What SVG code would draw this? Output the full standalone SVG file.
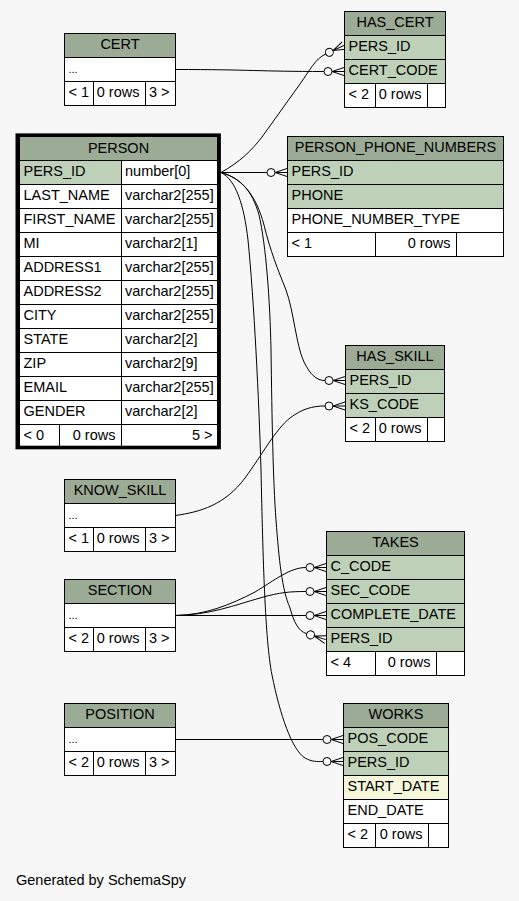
<svg xmlns="http://www.w3.org/2000/svg" width="519" height="901" viewBox="0 0 519 901">
<style>
.t{font-family:"Liberation Sans",Arial,Helvetica,sans-serif;font-size:14.5px;fill:#000}
.s{font-family:"Liberation Sans",Arial,sans-serif;font-size:11px;fill:#000}
.m{text-anchor:middle}
.e{text-anchor:end}
.h{fill:#9bab96;stroke:#000;stroke-width:1}
.k{fill:#bed1b8;stroke:#000;stroke-width:1}
.w{fill:#fff;stroke:#000;stroke-width:1}
.i{fill:#f4f7da;stroke:#000;stroke-width:1}
.c{fill:none;stroke:#000;stroke-width:1}
</style>
<defs>
<marker id="crow" markerUnits="userSpaceOnUse" orient="auto" refX="0" refY="0" markerWidth="20" markerHeight="10" overflow="visible">
<circle cx="4" cy="0" r="4" fill="none" stroke="#000" stroke-width="1"/>
<path d="M8,0 L20,-4 M8,0 L20,0 M8,0 L20,4" fill="none" stroke="#000" stroke-width="1"/>
</marker>
</defs>
<rect x="0" y="0" width="519" height="901" fill="#f7f7f7"/>

<g id="connectors">
<path class="c" marker-end="url(#crow)" d="M175.5,69.5 C250,69.5 260,71.5 324,71.5"/>
<path class="c" marker-end="url(#crow)" d="M221,172.5 C240,162 252,150 262,137 L300,84 C310,70 315,59 325.7,54"/>
<path class="c" marker-end="url(#crow)" d="M221,172.5 L267,172.5"/>
<path class="c" marker-end="url(#crow)" d="M221,172.5 C242,178 256,195 264,225 C270,250 278,270 286,290 C294,312 296,345 304,362 C310,374 316,380.5 325,380.5"/>
<path class="c" marker-end="url(#crow)" d="M175.5,515.5 C200,512 225,505 245,478 C262,455 275,430 290,418 C302,409 312,406 325,406"/>
<path class="c" marker-end="url(#crow)" d="M175.5,615.5 C205,615 230,605 255,592 C275,580 290,567.5 306,567.5"/>
<path class="c" marker-end="url(#crow)" d="M175.5,615.5 C210,615 235,605 260,598 C280,592 292,591.5 306,591.5"/>
<path class="c" marker-end="url(#crow)" d="M175.5,615.5 L306,615.5"/>
<path class="c" marker-end="url(#crow)" d="M221,172.5 C240,178 252,190 259,215 C266,245 270,300 271,350 C272,420 273,480 276,520 C279,560 282,590 290,608 C294,622 298,631 306.7,633.7"/>
<path class="c" marker-end="url(#crow)" d="M221,172.5 C236,180 244,205 248,240 C254,300 259,400 261,470 C263,560 265,640 272,675 C280,715 292,750 305,758 C312,762 317,761.5 323,761.5"/>
<path class="c" marker-end="url(#crow)" d="M175.5,739.5 L323,739.5"/>
</g>

<g id="CERT">
<rect class="h" x="64.5" y="33.5" width="111" height="24"/>
<text class="t m" x="120" y="49">CERT</text>
<rect class="w" x="64.5" y="57.5" width="111" height="24"/>
<text class="s" x="68.5" y="73">...</text>
<rect class="w" x="64.5" y="81.5" width="29" height="24"/>
<rect class="w" x="93.5" y="81.5" width="52" height="24"/>
<rect class="w" x="145.5" y="81.5" width="30" height="24"/>
<text class="t" x="68.5" y="97">&lt; 1</text>
<text class="t e" x="139.5" y="97">0 rows</text>
<text class="t e" x="169.5" y="97">3 &gt;</text>
</g>

<g id="HAS_CERT">
<rect class="h" x="344.5" y="11.5" width="101" height="24"/>
<text class="t m" x="395" y="27">HAS_CERT</text>
<rect class="k" x="344.5" y="35.5" width="101" height="24"/>
<text class="t" x="348.5" y="51">PERS_ID</text>
<rect class="k" x="344.5" y="59.5" width="101" height="24"/>
<text class="t" x="348.5" y="75">CERT_CODE</text>
<rect class="w" x="344.5" y="83.5" width="31" height="24"/>
<rect class="w" x="375.5" y="83.5" width="52" height="24"/>
<rect class="w" x="427.5" y="83.5" width="18" height="24"/>
<text class="t" x="348.5" y="99">&lt; 2</text>
<text class="t e" x="421.5" y="99">0 rows</text>
</g>

<g id="PERSON_PHONE_NUMBERS">
<rect class="h" x="287.5" y="136.5" width="216" height="24"/>
<text class="t m" x="395.5" y="152">PERSON_PHONE_NUMBERS</text>
<rect class="k" x="287.5" y="160.5" width="216" height="24"/>
<text class="t" x="291.5" y="176">PERS_ID</text>
<rect class="k" x="287.5" y="184.5" width="216" height="24"/>
<text class="t" x="291.5" y="200">PHONE</text>
<rect class="w" x="287.5" y="208.5" width="216" height="24"/>
<text class="t" x="291.5" y="224">PHONE_NUMBER_TYPE</text>
<rect class="w" x="287.5" y="232.5" width="88" height="24"/>
<rect class="w" x="375.5" y="232.5" width="81" height="24"/>
<rect class="w" x="456.5" y="232.5" width="47" height="24"/>
<text class="t" x="291.5" y="248">&lt; 1</text>
<text class="t e" x="450.5" y="248">0 rows</text>
</g>

<g id="PERSON">
<rect class="h" x="19.5" y="136.5" width="198" height="24"/>
<text class="t m" x="118.5" y="152.5">PERSON</text>
<rect class="k" x="19.5" y="160.5" width="102" height="24"/>
<rect class="w" x="121.5" y="160.5" width="96" height="24"/>
<text class="t" x="23.5" y="176">PERS_ID</text>
<text class="t" x="125" y="176">number[0]</text>
<rect class="w" x="19.5" y="184.5" width="102" height="24"/>
<rect class="w" x="121.5" y="184.5" width="96" height="24"/>
<text class="t" x="23.5" y="200">LAST_NAME</text>
<text class="t" x="125" y="200">varchar2[255]</text>
<rect class="w" x="19.5" y="208.5" width="102" height="24"/>
<rect class="w" x="121.5" y="208.5" width="96" height="24"/>
<text class="t" x="23.5" y="224">FIRST_NAME</text>
<text class="t" x="125" y="224">varchar2[255]</text>
<rect class="w" x="19.5" y="232.5" width="102" height="24"/>
<rect class="w" x="121.5" y="232.5" width="96" height="24"/>
<text class="t" x="23.5" y="248">MI</text>
<text class="t" x="125" y="248">varchar2[1]</text>
<rect class="w" x="19.5" y="256.5" width="102" height="24"/>
<rect class="w" x="121.5" y="256.5" width="96" height="24"/>
<text class="t" x="23.5" y="272">ADDRESS1</text>
<text class="t" x="125" y="272">varchar2[255]</text>
<rect class="w" x="19.5" y="280.5" width="102" height="24"/>
<rect class="w" x="121.5" y="280.5" width="96" height="24"/>
<text class="t" x="23.5" y="296">ADDRESS2</text>
<text class="t" x="125" y="296">varchar2[255]</text>
<rect class="w" x="19.5" y="304.5" width="102" height="24"/>
<rect class="w" x="121.5" y="304.5" width="96" height="24"/>
<text class="t" x="23.5" y="320">CITY</text>
<text class="t" x="125" y="320">varchar2[255]</text>
<rect class="w" x="19.5" y="328.5" width="102" height="24"/>
<rect class="w" x="121.5" y="328.5" width="96" height="24"/>
<text class="t" x="23.5" y="344">STATE</text>
<text class="t" x="125" y="344">varchar2[2]</text>
<rect class="w" x="19.5" y="352.5" width="102" height="24"/>
<rect class="w" x="121.5" y="352.5" width="96" height="24"/>
<text class="t" x="23.5" y="368">ZIP</text>
<text class="t" x="125" y="368">varchar2[9]</text>
<rect class="w" x="19.5" y="376.5" width="102" height="24"/>
<rect class="w" x="121.5" y="376.5" width="96" height="24"/>
<text class="t" x="23.5" y="392">EMAIL</text>
<text class="t" x="125" y="392">varchar2[255]</text>
<rect class="w" x="19.5" y="400.5" width="102" height="24"/>
<rect class="w" x="121.5" y="400.5" width="96" height="24"/>
<text class="t" x="23.5" y="416">GENDER</text>
<text class="t" x="125" y="416">varchar2[2]</text>
<rect class="w" x="19.5" y="424.5" width="40" height="24"/>
<rect class="w" x="59.5" y="424.5" width="62" height="24"/>
<rect class="w" x="121.5" y="424.5" width="96" height="24"/>
<text class="t" x="23.5" y="440">&lt; 0</text>
<text class="t e" x="115.5" y="440">0 rows</text>
<text class="t e" x="212.5" y="440">5 &gt;</text>
<rect x="17.3" y="135.2" width="201.8" height="312.3" fill="none" stroke="#000" stroke-width="3.6"/>
</g>

<g id="HAS_SKILL">
<rect class="h" x="345.5" y="345.5" width="99" height="24"/>
<text class="t m" x="395" y="361">HAS_SKILL</text>
<rect class="k" x="345.5" y="369.5" width="99" height="24"/>
<text class="t" x="349.5" y="385">PERS_ID</text>
<rect class="k" x="345.5" y="393.5" width="99" height="24"/>
<text class="t" x="349.5" y="409">KS_CODE</text>
<rect class="w" x="345.5" y="417.5" width="30" height="24"/>
<rect class="w" x="375.5" y="417.5" width="52" height="24"/>
<rect class="w" x="427.5" y="417.5" width="17" height="24"/>
<text class="t" x="349.5" y="433">&lt; 2</text>
<text class="t e" x="421.5" y="433">0 rows</text>
</g>

<g id="KNOW_SKILL">
<rect class="h" x="64.5" y="479.5" width="111" height="24"/>
<text class="t m" x="120" y="495">KNOW_SKILL</text>
<rect class="w" x="64.5" y="503.5" width="111" height="24"/>
<text class="s" x="68.5" y="519">...</text>
<rect class="w" x="64.5" y="527.5" width="29" height="24"/>
<rect class="w" x="93.5" y="527.5" width="52" height="24"/>
<rect class="w" x="145.5" y="527.5" width="30" height="24"/>
<text class="t" x="68.5" y="543">&lt; 1</text>
<text class="t e" x="139.5" y="543">0 rows</text>
<text class="t e" x="169.5" y="543">3 &gt;</text>
</g>

<g id="SECTION">
<rect class="h" x="64.5" y="579.5" width="111" height="24"/>
<text class="t m" x="120" y="595">SECTION</text>
<rect class="w" x="64.5" y="603.5" width="111" height="24"/>
<text class="s" x="68.5" y="619">...</text>
<rect class="w" x="64.5" y="627.5" width="29" height="24"/>
<rect class="w" x="93.5" y="627.5" width="52" height="24"/>
<rect class="w" x="145.5" y="627.5" width="30" height="24"/>
<text class="t" x="68.5" y="643">&lt; 2</text>
<text class="t e" x="139.5" y="643">0 rows</text>
<text class="t e" x="169.5" y="643">3 &gt;</text>
</g>

<g id="TAKES">
<rect class="h" x="326.5" y="531.5" width="138" height="24"/>
<text class="t m" x="395.5" y="547">TAKES</text>
<rect class="k" x="326.5" y="555.5" width="138" height="24"/>
<text class="t" x="330.5" y="571">C_CODE</text>
<rect class="k" x="326.5" y="579.5" width="138" height="24"/>
<text class="t" x="330.5" y="595">SEC_CODE</text>
<rect class="k" x="326.5" y="603.5" width="138" height="24"/>
<text class="t" x="330.5" y="619">COMPLETE_DATE</text>
<rect class="k" x="326.5" y="627.5" width="138" height="24"/>
<text class="t" x="330.5" y="643">PERS_ID</text>
<rect class="w" x="326.5" y="651.5" width="49" height="24"/>
<rect class="w" x="375.5" y="651.5" width="61" height="24"/>
<rect class="w" x="436.5" y="651.5" width="28" height="24"/>
<text class="t" x="330.5" y="667">&lt; 4</text>
<text class="t e" x="430.5" y="667">0 rows</text>
</g>

<g id="POSITION">
<rect class="h" x="64.5" y="703.5" width="111" height="24"/>
<text class="t m" x="120" y="719">POSITION</text>
<rect class="w" x="64.5" y="727.5" width="111" height="24"/>
<text class="s" x="68.5" y="743">...</text>
<rect class="w" x="64.5" y="751.5" width="29" height="24"/>
<rect class="w" x="93.5" y="751.5" width="52" height="24"/>
<rect class="w" x="145.5" y="751.5" width="30" height="24"/>
<text class="t" x="68.5" y="767">&lt; 2</text>
<text class="t e" x="139.5" y="767">0 rows</text>
<text class="t e" x="169.5" y="767">3 &gt;</text>
</g>

<g id="WORKS">
<rect class="h" x="343.5" y="703.5" width="105" height="24"/>
<text class="t m" x="396" y="719">WORKS</text>
<rect class="k" x="343.5" y="727.5" width="105" height="24"/>
<text class="t" x="347.5" y="743">POS_CODE</text>
<rect class="k" x="343.5" y="751.5" width="105" height="24"/>
<text class="t" x="347.5" y="767">PERS_ID</text>
<rect class="i" x="343.5" y="775.5" width="105" height="24"/>
<text class="t" x="347.5" y="791">START_DATE</text>
<rect class="w" x="343.5" y="799.5" width="105" height="24"/>
<text class="t" x="347.5" y="815">END_DATE</text>
<rect class="w" x="343.5" y="823.5" width="32" height="24"/>
<rect class="w" x="375.5" y="823.5" width="53" height="24"/>
<rect class="w" x="428.5" y="823.5" width="20" height="24"/>
<text class="t" x="347.5" y="839">&lt; 2</text>
<text class="t e" x="422.5" y="839">0 rows</text>
</g>

<text class="t" x="16" y="885">Generated by SchemaSpy</text>
</svg>
